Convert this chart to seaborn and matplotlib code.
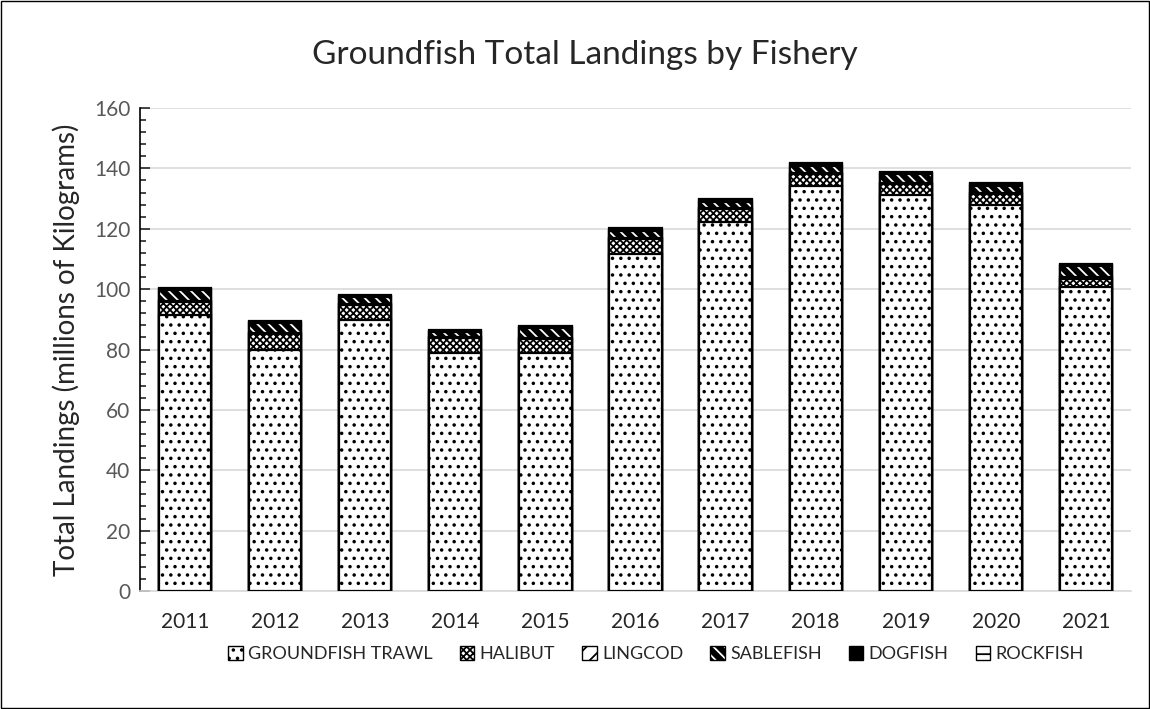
import numpy as np
import pandas as pd
import matplotlib.pyplot as plt
import seaborn as sns
from matplotlib.patches import Patch, Rectangle
from matplotlib.colors import to_rgba

years = ['2011', '2012', '2013', '2014', '2015', '2016', '2017', '2018', '2019', '2020', '2021']
groundfish = [91.5, 80.0, 89.7, 78.7, 78.7, 111.8, 122.1, 134.2, 131.1, 127.8, 100.6]
halibut = [4.2, 5.0, 5.0, 5.0, 4.7, 4.7, 4.3, 3.8, 3.7, 3.7, 2.9]
lingcod = [0.4, 0.4, 0.4, 0.3, 0.3, 0.4, 0.4, 0.4, 0.4, 0.4, 0.4]
sablefish = [3.5, 3.4, 2.3, 1.7, 3.4, 2.4, 2.2, 2.5, 2.8, 2.4, 3.6]
dogfish = [0.3, 0.4, 0.4, 0.3, 0.3, 0.4, 0.4, 0.4, 0.4, 0.4, 0.4]
rockfish = [0.4, 0.4, 0.4, 0.4, 0.4, 0.4, 0.4, 0.4, 0.4, 0.4, 0.4]

names = ['GROUNDFISH TRAWL', 'HALIBUT', 'LINGCOD', 'SABLEFISH', 'DOGFISH', 'ROCKFISH']
series = [groundfish, halibut, lingcod, sablefish, dogfish, rockfish]
hatches = ['..', 'xxxxx', '//', '\\\\\\', '', '--']
faces = ['white', 'white', 'white', 'black', 'black', 'white']
hatch_cols = ['black', 'black', 'black', 'white', 'black', 'black']

sns.set_style('white')
plt.rcParams['font.family'] = ['Lato', 'DejaVu Sans']
plt.rcParams['hatch.linewidth'] = 1.3

fig = plt.figure(figsize=(11.5, 7.09), dpi=100)
ax = fig.add_axes([140 / 1150, 1 - 591 / 709, 991 / 1150, 483 / 709])

# stacked bars: draw cumulative totals from the top layer down
cum = np.cumsum(np.array(series), axis=0)
for i in range(len(series) - 1, -1, -1):
    df = pd.DataFrame({'year': years, 'value': cum[i]})
    sns.barplot(data=df, x='year', y='value', ax=ax, color=faces[i],
                edgecolor='black', linewidth=1.6, hatch=hatches[i],
                width=0.58, saturation=1, zorder=3)
for i, cont in enumerate(reversed(ax.containers)):
    for p in cont:
        p.set_facecolor(faces[i])
        p._hatch_color = to_rgba(hatch_cols[i])

ax.set_ylim(0, 160)
ax.set_yticks(range(0, 161, 20))
ax.set_yticks(range(0, 161, 4), minor=True)
ax.yaxis.grid(True, color='#d9d9d9', linewidth=1.2, zorder=0)
ax.set_axisbelow(True)
ax.tick_params(axis='y', which='major', direction='in', length=7, width=1.2,
               labelsize=15, labelcolor='#595959', left=True, pad=7)
ax.tick_params(axis='y', which='minor', direction='in', length=4, width=1.2, left=True)
ax.tick_params(axis='x', length=0, labelsize=15, pad=15)
for s in ['top', 'right']:
    ax.spines[s].set_visible(False)
ax.spines['left'].set_color('black')
ax.spines['left'].set_linewidth(1.2)
ax.spines['bottom'].set_color('#d9d9d9')
ax.spines['bottom'].set_linewidth(1.2)
ax.set_xlabel('')
ax.set_ylabel('Total Landings (millions of Kilograms)', fontsize=20, labelpad=10)

fig.text(585 / 1150, 1 - 55 / 709, 'Groundfish Total Landings by Fishery',
         ha='center', va='center', fontsize=24)

handles = []
for i in range(len(names)):
    h = Patch(facecolor=faces[i], edgecolor='black', hatch=hatches[i], linewidth=1)
    h._hatch_color = to_rgba(hatch_cols[i])
    handles.append(h)
fig.legend(handles, names, loc='center', bbox_to_anchor=(656 / 1150, 1 - 654 / 709),
           ncol=6, frameon=False, fontsize=13, handlelength=0.8, handleheight=0.8,
           handletextpad=0.3, columnspacing=1.5)

fig.patches.append(Rectangle((0.001, 0.001), 0.998, 0.998, transform=fig.transFigure,
                             fill=False, edgecolor='black', linewidth=1))

fig.savefig('out.png', dpi=100)
